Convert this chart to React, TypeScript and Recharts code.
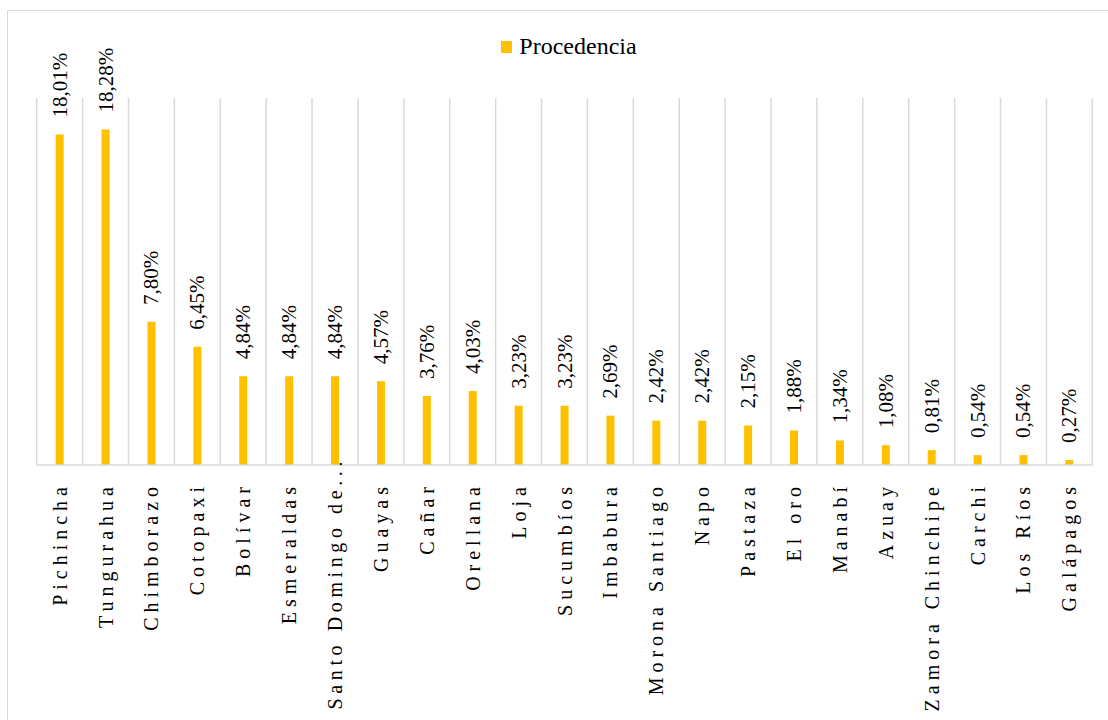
import { BarChart, Bar, CartesianGrid, XAxis, YAxis, Legend, LabelList } from "recharts";

const categories = [
  "Pichincha",
  "Tungurahua",
  "Chimborazo",
  "Cotopaxi",
  "Bolívar",
  "Esmeraldas",
  "Santo Domingo de...",
  "Guayas",
  "Cañar",
  "Orellana",
  "Loja",
  "Sucumbíos",
  "Imbabura",
  "Morona Santiago",
  "Napo",
  "Pastaza",
  "El oro",
  "Manabí",
  "Azuay",
  "Zamora Chinchipe",
  "Carchi",
  "Los Ríos",
  "Galápagos",
];

const procedencia = [
  18.01, 18.28, 7.8, 6.45, 4.84, 4.84, 4.84, 4.57, 3.76, 4.03, 3.23, 3.23, 2.69,
  2.42, 2.42, 2.15, 1.88, 1.34, 1.08, 0.81, 0.54, 0.54, 0.27,
];

const data = categories.map((name, i) => ({ name, value: procedencia[i] }));

const FONT = "'Liberation Serif', 'Times New Roman', Times, serif";
const GOLD = "#FFC000";
const GRID = "#d9d9d9";

const fmt = (v: number) => v.toFixed(2).replace(".", ",") + "%";

// category axis labels, vertical, with wide character spacing
function CategoryTick(props: any) {
  const { x, y, payload } = props;
  // the truncated label starts right at the axis line, like the original
  const cut = String(payload.value).endsWith("...");
  const ty = cut ? y - 8 : y + 17;
  return (
    <text
      x={x}
      y={ty}
      transform={`rotate(-90, ${x}, ${ty})`}
      textAnchor="end"
      dominantBaseline="central"
      fontFamily={FONT}
      fontSize={20}
      letterSpacing={cut ? 4.6 : 5}
      fill="#000"
    >
      {payload.value}
    </text>
  );
}

function ValueLabel(props: any) {
  const { x, y, width, value } = props;
  const cx = x + width / 2;
  const ty = y - 17;
  return (
    <text
      x={cx}
      y={ty}
      transform={`rotate(-90, ${cx}, ${ty})`}
      textAnchor="start"
      dominantBaseline="central"
      fontFamily={FONT}
      fontSize={21}
      fill="#000"
    >
      {fmt(value)}
    </text>
  );
}

function LegendBox() {
  return (
    <div
      style={{
        display: "flex",
        justifyContent: "center",
        alignItems: "center",
        fontFamily: FONT,
        fontSize: 24,
        color: "#000",
      }}
    >
      <span style={{ width: 11, height: 12, background: GOLD, marginRight: 7 }} />
      <span>Procedencia</span>
    </div>
  );
}

export default function App() {
  const n = categories.length;
  return (
    <div
      style={{
        position: "fixed",
        left: 7,
        top: 10,
        width: 1101,
        height: 710,
        boxSizing: "border-box",
        borderLeft: `1px solid ${GRID}`,
        borderTop: `1px solid ${GRID}`,
        overflow: "hidden",
        background: "#fff",
      }}
    >
      <BarChart
        width={1100}
        height={709}
        data={data}
        margin={{ top: 87, right: 15.7, bottom: 0, left: 28.7 }}
      >
        <CartesianGrid
          horizontal={false}
          stroke={GRID}
          strokeWidth={1.5}
          verticalCoordinatesGenerator={({ offset }: any) =>
            Array.from({ length: n + 1 }, (_, i) => offset.left + (offset.width * i) / n)
          }
        />
        <XAxis
          dataKey="name"
          interval={0}
          height={255}
          tickLine={false}
          tickSize={0}
          tickMargin={0}
          axisLine={{ stroke: GRID, strokeWidth: 1.5 }}
          tick={<CategoryTick />}
        />
        <YAxis hide domain={[0, 20]} />
        <Legend
          verticalAlign="middle"
          content={<LegendBox />}
          wrapperStyle={{ top: 22, left: 11, width: 1100 }}
        />
        <Bar dataKey="value" name="Procedencia" fill={GOLD} barSize={8} isAnimationActive={false}>
          <LabelList dataKey="value" content={<ValueLabel />} />
        </Bar>
      </BarChart>
    </div>
  );
}
